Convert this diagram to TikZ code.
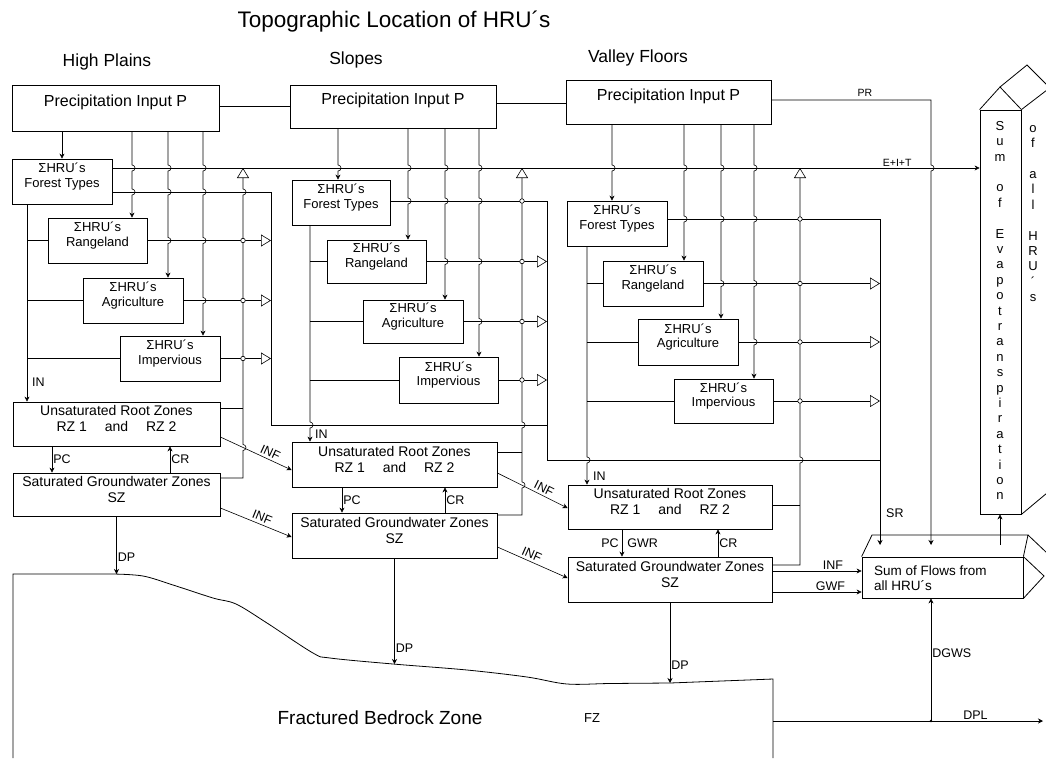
\documentclass[tikz,border=0pt]{standalone}
\usepackage{fontspec}
\setmainfont{Liberation Sans}
\usetikzlibrary{arrows.meta,fit}
\newcommand{\vjump}[5][arr]{\draw[#1] (#3) \foreach \b in {#5} {-- (#2,\b-3) arc[start angle=90,end angle=-90,radius=3pt]} -- (#4);}
\begin{document}
\begin{tikzpicture}[x=1pt,y=-1pt,
  ln/.style={line width=0.6pt},
  box/.style={draw, line width=0.8pt, inner sep=0pt},
  pbox/.style={box, align=center, font=\fontsize{16}{18}\selectfont},
  hbox/.style={box, align=left, font=\fontsize{13}{14.5}\selectfont},
  zbox/.style={box, align=center, font=\fontsize{14}{16}\selectfont},
  lbl/.style={font=\fontsize{12.5}{14}\selectfont, inner sep=1pt},
  ilbl/.style={lbl, sloped, above, inner sep=2.5pt},
  slbl/.style={font=\fontsize{10.5}{12}\selectfont, inner sep=1pt},
  arr/.style={ln,-{Stealth[length=5pt,width=5pt]}},
  tri/.style={ln,-{Triangle[open,length=10pt,width=12pt,line width=0.6pt]}},
  dot/.style={draw, fill=white, circle, inner sep=0pt, minimum size=4.5pt, line width=0.6pt},
  bd/.style={line width=0.8pt}
]
\useasboundingbox (0,0) rectangle (1046,758);

% titles
\node[font=\fontsize{22.5}{26}\selectfont] (title) at (394,22) {Topographic Location of HRU´s};
\node[font=\fontsize{17.5}{20}\selectfont] (h1) at (107,62) {High Plains};
\node[font=\fontsize{17.5}{20}\selectfont] (h2) at (356,60) {Slopes};
\node[font=\fontsize{17.5}{20}\selectfont] (h3) at (638,58) {Valley Floors};

% boxes column 1
\node[pbox, fit={(12,85)(219,131)}] (P1) {Precipitation Input P};
\node[hbox, fit={(12,159)(112,204)}] (F1) {ΣHRU´s\\Forest Types};
\node[hbox, fit={(48,218)(147,263)}] (R1) {ΣHRU´s\\Rangeland};
\node[hbox, fit={(83,278)(183,323)}] (A1) {ΣHRU´s\\Agriculture};
\node[hbox, fit={(120,336)(220,381)}] (I1) {ΣHRU´s\\Impervious};
\node[zbox, fit={(13,402)(220,446)}] (U1) {Unsaturated Root Zones\\RZ 1 \quad and \quad RZ 2};
\node[zbox, fit={(13,473)(220,516)}] (S1) {Saturated Groundwater Zones\\SZ};
% column 2
\node[pbox, fit={(290,85)(496,128)}] (P2) {Precipitation Input P};
\node[hbox, fit={(292,180)(390,225)}] (F2) {ΣHRU´s\\Forest Types};
\node[hbox, fit={(327,240)(426,283)}] (R2) {ΣHRU´s\\Rangeland};
\node[hbox, fit={(363,300)(463,343)}] (A2) {ΣHRU´s\\Agriculture};
\node[hbox, fit={(399,357)(498,403)}] (I2) {ΣHRU´s\\Impervious};
\node[zbox, fit={(292,442)(497,487)}] (U2) {Unsaturated Root Zones\\RZ 1 \quad and \quad RZ 2};
\node[zbox, fit={(292,513)(497,558)}] (S2) {Saturated Groundwater Zones\\SZ};
% column 3
\node[pbox, fit={(566,80)(771,124)}] (P3) {Precipitation Input P};
\node[hbox, fit={(567,201)(667,246)}] (F3) {ΣHRU´s\\Forest Types};
\node[hbox, fit={(603,261)(703,306)}] (R3) {ΣHRU´s\\Rangeland};
\node[hbox, fit={(638,319)(738,365)}] (A3) {ΣHRU´s\\Agriculture};
\node[hbox, fit={(674,379)(773,423)}] (I3) {ΣHRU´s\\Impervious};
\node[zbox, fit={(568,485)(772,529)}] (U3) {Unsaturated Root Zones\\RZ 1 \quad and \quad RZ 2};
\node[zbox, fit={(568,557)(772,602)}] (S3) {Saturated Groundwater Zones\\SZ};

% evapotranspiration column
\node[box, fit={(980,110)(1021,514)}] (EV) {};
\draw[bd] (EV.north west) -- (1000,87) -- (EV.north east);
\draw[bd] (1000,87) -- (1027,65) -- (1047,85);
\draw[bd] (EV.north east) -- (1047,90);
\draw[bd] (EV.south east) -- (1047,493);
\node[font=\fontsize{13}{15.4}\selectfont, align=center, inner sep=0pt, anchor=north] (evt) at (1000,121)
  {S\\u\\m\\\mbox{}\\o\\f\\\mbox{}\\E\\v\\a\\p\\o\\t\\r\\a\\n\\s\\p\\i\\r\\a\\t\\i\\o\\n};
\node[font=\fontsize{13}{15.4}\selectfont, align=center, inner sep=0pt, anchor=north] (evs) at (1033,125)
  {o\\f\\\mbox{}\\a\\l\\l\\\mbox{}\\H\\R\\U\\´\\s};

% sum of flows
\node[box, fit={(862,557)(1023,598)}] (SF) {};
\node[font=\fontsize{13.5}{15}\selectfont, align=left, anchor=west, inner sep=0pt] (SFt) at (874,578) {Sum of Flows from\\all HRU´s};
\draw[bd] (SF.north west) -- (872,535) -- (1028,535) -- (SF.north east);
\draw[bd] (SF.north east) -- (1044,576) -- (SF.south east);
\draw[bd] (1028,535) -- (1047,553);

% precipitation links
\draw[ln] (P1.east |- 0,106) -- (P2.west |- 0,106);
\draw[ln] (P2.east |- 0,103) -- (P3.west |- 0,103);
\draw[arr] (P3.east |- 0,100) -- (931,100) -- (931,165) arc[start angle=90,end angle=-90,radius=3pt] -- (931,545);
\node[slbl] (lPR) at (865,93) {PR};

% E+I+T line
\draw[arr] (F1.east |- 0,168) -- node[slbl, above, pos=0.905] (lEIT) {E+I+T} (EV.west |- 0,168);

% precipitation to HRUs, column 1
\draw[arr] (P1.south -| 62,0) -- (F1.north -| 62,0);
\vjump{132}{P1.south -| 132,0}{R1.north -| 132,0}{168,192}
\vjump{168}{P1.south -| 168,0}{A1.north -| 168,0}{168,192,240.5}
\vjump{203}{P1.south -| 203,0}{I1.north -| 203,0}{168,192,240.5,300.5}
% column 2
\vjump{338}{P2.south -| 338,0}{F2.north -| 338,0}{168}
\vjump{408}{P2.south -| 408,0}{R2.north -| 408,0}{168,201}
\vjump{445}{P2.south -| 445,0}{A2.north -| 445,0}{168,201,261.5}
\vjump{479}{P2.south -| 479,0}{I2.north -| 479,0}{168,201,261.5,321.5}
% column 3
\vjump{612}{P3.south -| 612,0}{F3.north -| 612,0}{168}
\vjump{684}{P3.south -| 684,0}{R3.north -| 684,0}{168,219}
\vjump{721}{P3.south -| 721,0}{A3.north -| 721,0}{168,219,283.5}
\vjump{754}{P3.south -| 754,0}{I3.north -| 754,0}{168,219,283.5,342}

% infiltration lines IN
\draw[arr] (F1.south -| 27,0) -- (U1.north -| 27,0);
\draw[ln] (R1.west -| 27,0) -- (R1.west);
\draw[ln] (A1.west -| 27,0) -- (A1.west);
\draw[ln] (I1.west -| 27,0) -- (I1.west);
\node[lbl, anchor=west] (lIN1) at (31,382) {IN};
\vjump{310}{F2.south -| 310,0}{U2.north -| 310,0}{425}
\draw[ln] (R2.west -| 310,0) -- (R2.west);
\draw[ln] (A2.west -| 310,0) -- (A2.west);
\draw[ln] (I2.west -| 310,0) -- (I2.west);
\node[lbl, anchor=west] (lIN2) at (314,434) {IN};
\vjump{587}{F3.south -| 587,0}{U3.north -| 587,0}{460}
\draw[ln] (R3.west -| 587,0) -- (R3.west);
\draw[ln] (A3.west -| 587,0) -- (A3.west);
\draw[ln] (I3.west -| 587,0) -- (I3.west);
\node[lbl, anchor=west] (lIN3) at (592,476) {IN};

% surface runoff collectors
\draw[ln] (F1.east |- 0,192) -- (271,192) -- (271,425) -- (547,425);
\draw[ln] (F2.east |- 0,201) -- (547,201) -- (547,460) -- (880,460);
\draw[arr] (F3.east |- 0,219) -- (880,219) -- (880,545);
\node[lbl, anchor=west] (lSR) at (885,513) {SR};
\draw[tri] (R1.east) -- (R1.east -| 271,0);
\draw[tri] (A1.east) -- (A1.east -| 271,0);
\draw[tri] (I1.east) -- (I1.east -| 271,0);
\draw[tri] (R2.east) -- (R2.east -| 547,0);
\draw[tri] (A2.east) -- (A2.east -| 547,0);
\draw[tri] (I2.east) -- (I2.east -| 547,0);
\draw[tri] (R3.east) -- (R3.east -| 880,0);
\draw[tri] (A3.east) -- (A3.east -| 880,0);
\draw[tri] (I3.east) -- (I3.east -| 880,0);

% evapotranspiration collectors
\draw[tri] (S1.east |- 0,478) -- (243,478) -- (243,450.5) arc[start angle=-90,end angle=90,radius=3pt]
  -- (243,195) arc[start angle=-90,end angle=90,radius=3pt] -- (243,168);
\draw[ln] (U1.east |- 0,408) -- (243,408);
\draw[tri] (S2.east |- 0,515) -- (522,515) -- (522,488) arc[start angle=-90,end angle=90,radius=3pt]
  -- (522,428) arc[start angle=-90,end angle=90,radius=3pt] -- (522,168);
\draw[ln] (U2.east |- 0,452) -- (522,452);
\draw[tri] (S3.east |- 0,565) -- (800,565) -- (800,463) arc[start angle=-90,end angle=90,radius=3pt] -- (800,168);
\draw[ln] (U3.east |- 0,505) -- (800,505);
\node[dot] (d11) at (243,240.5) {};
\node[dot] (d12) at (243,300.5) {};
\node[dot] (d13) at (243,358.5) {};
\node[dot] (d20) at (522,201) {};
\node[dot] (d21) at (522,261.5) {};
\node[dot] (d22) at (522,321.5) {};
\node[dot] (d23) at (522,380) {};
\node[dot] (d30) at (800,219) {};
\node[dot] (d31) at (800,283.5) {};
\node[dot] (d32) at (800,342) {};
\node[dot] (d33) at (800,401) {};

% percolation / capillary rise
\draw[arr] (U1.south -| 52,0) -- node[lbl, right] (lPC1) {PC} (S1.north -| 52,0);
\draw[arr] (S1.north -| 170,0) -- node[lbl, right] (lCR1) {CR} (U1.south -| 170,0);
\draw[arr] (U2.south -| 342,0) -- node[lbl, right] (lPC2) {PC} (S2.north -| 342,0);
\draw[arr] (S2.north -| 445,0) -- node[lbl, right] (lCR2) {CR} (U2.south -| 445,0);
\draw[arr] (U3.south -| 622,0) -- node[lbl, left, xshift=-2pt] (lPC3) {PC} node[lbl, right, xshift=4pt] (lGWR) {GWR} (S3.north -| 622,0);
\draw[arr] (S3.north -| 718,0) -- node[lbl, right] (lCR3) {CR} (U3.south -| 718,0);

% lateral inflows INF
\draw[arr] (U1.east |- 0,437) -- node[ilbl, pos=0.66] (lINF1) {INF} (U2.west |- 0,470);
\draw[arr] (S1.east |- 0,508) -- node[ilbl, pos=0.55] (lINF2) {INF} (S2.west |- 0,537);
\draw[arr] (U2.east |- 0,473) -- node[ilbl, pos=0.62] (lINF3) {INF} (U3.west |- 0,508);
\draw[arr] (S2.east |- 0,547) -- node[ilbl, pos=0.45] (lINF4) {INF} (S3.west |- 0,578);
\draw[arr] (S3.east |- 0,571) -- node[lbl, above, pos=0.68] (lINF5) {INF} (SF.west |- 0,571);
\draw[arr] (S3.east |- 0,592) -- node[lbl, above, pos=0.65] (lGWF) {GWF} (SF.west |- 0,592);

% sum of flows to evapotranspiration
\draw[arr] (1000,545) -- (EV.south -| 1000,0);

% fractured bedrock zone
\draw[bd] (13,758) -- (13,574) -- (113,574)
  plot[smooth, tension=0.55] coordinates {(113,574) (143,576) (173,585) (213,598) (236,604) (267,623) (313,653) (330,658) (393,664) (467,670) (527,677) (567,684) (610,683.5) (670,683)}
  -- (773,679) -- (773,758);
\node[font=\fontsize{19}{22}\selectfont] (fbz) at (380,718) {Fractured Bedrock Zone};
\node[font=\fontsize{13}{15}\selectfont] (fz) at (592,718) {FZ};

% deep percolation
\draw[arr] (S1.south) -- node[lbl, right, pos=0.7] (lDP1) {DP} (S1.south |- 0,574);
\draw[arr] (S2.south) -- node[lbl, right, pos=0.85] (lDP2) {DP} (S2.south |- 0,664);
\draw[arr] (S3.south) -- node[lbl, right, pos=0.78] (lDP3) {DP} (S3.south |- 0,683);

% deep losses
\coordinate (fzR) at (773,721);
\coordinate (dplEnd) at (1043,721);
\coordinate (dgJ) at (931,721);
\draw[arr] (fzR) -- node[lbl, above, pos=0.75] (lDPL) {DPL} (dplEnd);
\draw[arr] (dgJ) -- node[lbl, right, pos=0.55] (lDGWS) {DGWS} (SF.south -| dgJ);
\fill (dgJ) circle (1.3pt);
\end{tikzpicture}
\end{document}
